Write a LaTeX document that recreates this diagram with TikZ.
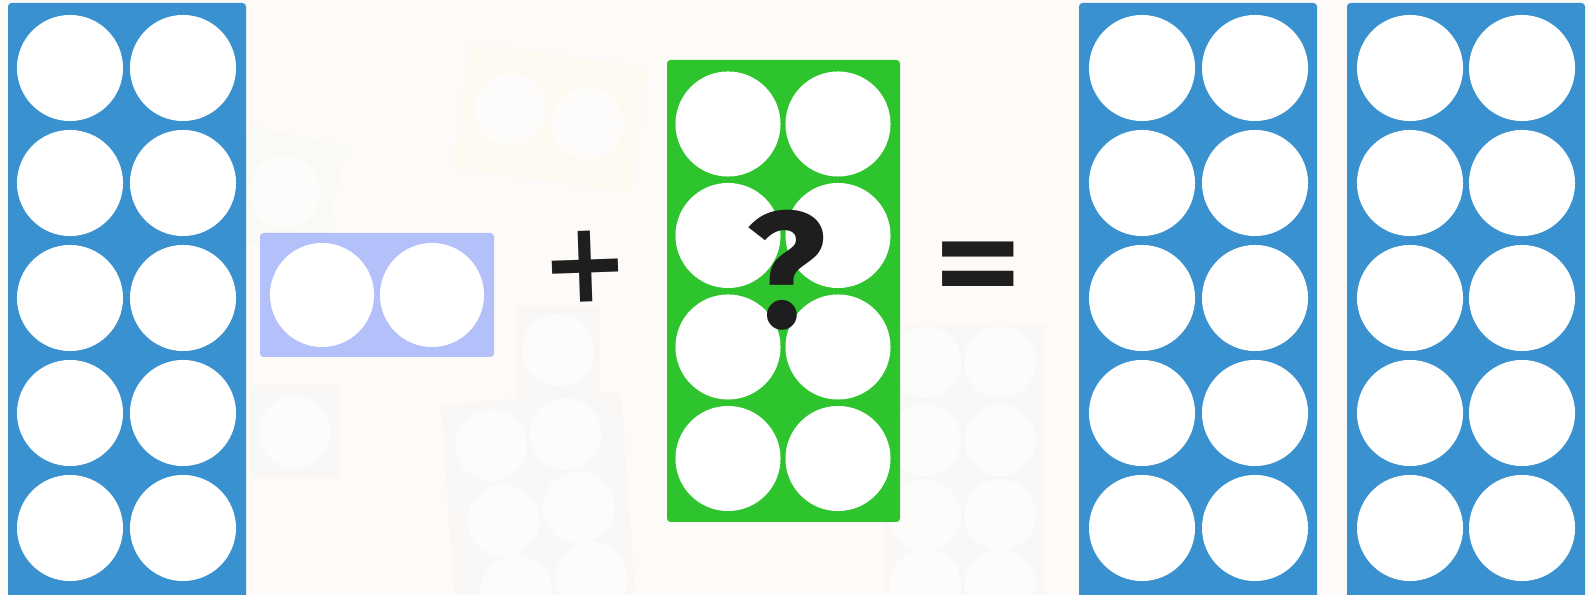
\documentclass[tikz,border=0pt]{standalone}
\usepackage{fontspec}
\setmainfont{DejaVu Sans}
\newfontfamily\askfont{Fira Sans}
\usetikzlibrary{positioning}

\definecolor{paper}{HTML}{FDFAF7}
\definecolor{tenblue}{HTML}{3A91CF}
\definecolor{twolilac}{HTML}{B4C0FA}
\definecolor{eightgreen}{HTML}{2EC42E}
\definecolor{inkblack}{HTML}{1E1E1E}
\definecolor{ghostgrey}{HTML}{F9F8F7}
\definecolor{ghostyellow}{HTML}{FDFAF1}
\definecolor{ghostgreen}{HTML}{F9FAF6}
\definecolor{ghostwhite}{HTML}{FEFCFA}

\tikzset{
  hole/.style={circle, fill=white, inner sep=0pt, minimum size=1.06cm},
  ghosthole/.style={circle, fill=ghostwhite, inner sep=0pt, minimum size=0.72cm},
  sign/.style={text=inkblack, inner sep=0pt, font=\bfseries\fontsize{30}{30}\selectfont}
}

\begin{document}
\begin{tikzpicture}[x=0.01cm, y=-0.01cm]

\useasboundingbox (0,0) rectangle (1588,595);
\fill[paper] (0,0) rectangle (1588,595);

% faint frames behind
\begin{scope}[rotate around={4:(540,500)}]
\fill[ghostgrey] (448,398) rectangle (628,620);
\node[ghosthole] (g1) at (495,442) {};
\node[ghosthole] (g2) at (570,436) {};
\node[ghosthole] (g3) at (502,518) {};
\node[ghosthole] (g4) at (578,510) {};
\node[ghosthole] (g5) at (510,590) {};
\node[ghosthole] (g6) at (586,582) {};
\end{scope}
\fill[ghostgrey] (516,306) rectangle (600,398);
\node[ghosthole] (g7) at (558,350) {};
\fill[ghostgrey] (885,325) rectangle (1045,600);
\node[ghosthole] (g8) at (925,362) {};
\node[ghosthole] (g9) at (1000,362) {};
\node[ghosthole] (g10) at (925,440) {};
\node[ghosthole] (g11) at (1000,440) {};
\node[ghosthole] (g12) at (925,515) {};
\node[ghosthole] (g13) at (1000,515) {};
\node[ghosthole] (g14) at (925,585) {};
\node[ghosthole] (g15) at (1000,585) {};
\begin{scope}[rotate around={-8:(550,115)}]
\fill[ghostyellow] (462,55) rectangle (640,180);
\node[ghosthole] (g16) at (510,115) {};
\node[ghosthole] (g17) at (588,118) {};
\end{scope}
\begin{scope}[rotate around={-12:(285,190)}]
\fill[ghostgreen] (238,135) rectangle (335,250);
\node[ghosthole] (g18) at (285,192) {};
\end{scope}
\fill[ghostgrey] (250,385) rectangle (340,478);
\node[ghosthole] (g19) at (295,432) {};

% ten frame on the left
\fill[tenblue, rounded corners=1pt] (8,3) rectangle (246,610);
\foreach \r in {1,...,5}
  \foreach \c in {1,2}
    \node[hole] (L-\r-\c) at ({70+(\c-1)*113}, {68+(\r-1)*115}) {};

% the two
\fill[twolilac, rounded corners=1pt] (260,233) rectangle (494,357);
\node[hole, minimum size=1.04cm] (T-1) at (322,295) {};
\node[hole, minimum size=1.04cm] (T-2) at (432,295) {};

\node[sign, rotate=2, yscale=1.07] (plus) at (585,267) {+};

% the eight
\fill[eightgreen, rounded corners=1pt] (667,60) rectangle (900,522);
\foreach \r in {1,...,4}
  \foreach \c in {1,2}
    \node[hole, minimum size=1.05cm] (E-\r-\c) at ({728+(\c-1)*110}, {124+(\r-1)*111.5}) {};

\node[sign, font=\askfont\bfseries\fontsize{47}{47}\selectfont] (ask) at (786,270) {?};

\node[sign, xscale=1.08, yscale=1.25] (equals) at (978,274) {=};

% two ten frames on the right
\fill[tenblue, rounded corners=1pt] (1079,3) rectangle (1317,610);
\fill[tenblue, rounded corners=1pt] (1347,3) rectangle (1585,610);
\foreach \r in {1,...,5}
  \foreach \c in {1,2} {
    \node[hole] (R-\r-\c) at ({1142+(\c-1)*113}, {68+(\r-1)*115}) {};
    \node[hole] (S-\r-\c) at ({1410+(\c-1)*112}, {68+(\r-1)*115}) {};
  }

\end{tikzpicture}
\end{document}
